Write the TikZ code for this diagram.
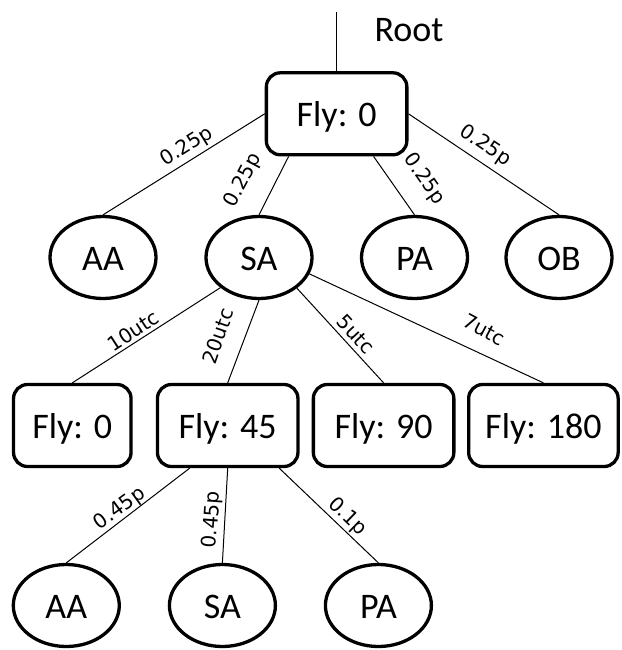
\documentclass[tikz,border=0pt]{standalone}
\usepackage{fontspec}
\setmainfont{Carlito}
\newfontfamily\labfont{DejaVu Sans}
\usetikzlibrary{shapes.geometric,calc}
\begin{document}
\begin{tikzpicture}[x=1pt,y=-1pt,
  bigtext/.style={font=\fontsize{36}{40}\selectfont},
  flybox/.style={draw, line width=3.3pt, rounded corners=14pt, minimum height=82pt,
    inner sep=0pt, text height=25pt, text depth=0pt, bigtext},
  ell/.style={draw, ellipse, line width=3.3pt, minimum width=106pt, minimum height=82pt,
    inner sep=0pt, text height=25pt, text depth=0pt, bigtext},
  conn/.style={line width=1pt},
  lab/.style={font=\labfont\fontsize{20}{24}\selectfont, inner sep=0pt}]
\useasboundingbox (0,0) rectangle (621,650);

% nodes
\node[flybox, minimum width=140.5pt] (root) at (336.6,113.8) {Fly: 0};
\node[bigtext, anchor=base, inner sep=0pt] (rootlab) at (409,41.7) {Root};
\coordinate (top) at (336.6,12);

\node[ell] (aa1) at (103,257.5) {AA};
\node[ell] (sa1) at (259,257.5) {SA};
\node[ell] (pa1) at (414.5,257.5) {PA};
\node[ell] (ob1) at (559,257.5) {OB};

\node[flybox, minimum width=117.5pt] (f0) at (72.3,425.5) {Fly: 0};
\node[flybox, minimum width=140.5pt] (f45) at (227.7,425.5) {Fly: 45};
\node[flybox, minimum width=140.5pt] (f90) at (383.6,425.5) {Fly: 90};
\node[flybox, minimum width=149.5pt] (f180) at (543.4,425.5) {Fly: 180};

\node[ell] (aa2) at (66.3,605.5) {AA};
\node[ell] (sa2) at (222.4,605.5) {SA};
\node[ell] (pa2) at (378.4,605.5) {PA};

% connectors
\draw[conn] (top) -- (root.north);
\draw[conn] (root.west) -- (aa1.north);
\draw[conn] ($(root.south)+(-48,0)$) -- (sa1.north);
\draw[conn] ($(root.south)+(37,0)$) -- (pa1.north);
\draw[conn] (root.east) -- (ob1.north);

\draw[conn] (sa1.-142) -- (f0.north);
\draw[conn] (sa1.south) -- (f45.north);
\draw[conn] (sa1.-39) -- (f90.north);
\draw[conn] (sa1.-18) -- (f180.north);

\draw[conn] ($(f45.south)+(-38,0)$) -- (aa2.north);
\draw[conn] (f45.south) -- (sa2.north);
\draw[conn] ($(f45.south)+(51.5,0)$) -- (pa2.north);

% labels
\node[lab, rotate=32] (l1) at (187,147) {0.25p};
\node[lab, rotate=62] (l2) at (243.7,180.5) {0.25p};
\node[lab, rotate=-55] (l3) at (424,179) {0.25p};
\node[lab, rotate=-34] (l4) at (485,145.7) {0.25p};

\node[lab, rotate=33] (l5) at (133.3,330.7) {10utc};
\node[lab, rotate=71] (l6) at (218,336) {20utc};
\node[lab, rotate=-47] (l7) at (355.7,334) {5utc};
\node[lab, rotate=-28] (l8) at (484,330) {7utc};

\node[lab, rotate=36] (l9) at (120,509) {0.45p};
\node[lab, rotate=86] (l10) at (212.5,520) {0.45p};
\node[lab, rotate=-44] (l11) at (347.5,516.7) {0.1p};
\end{tikzpicture}
\end{document}
